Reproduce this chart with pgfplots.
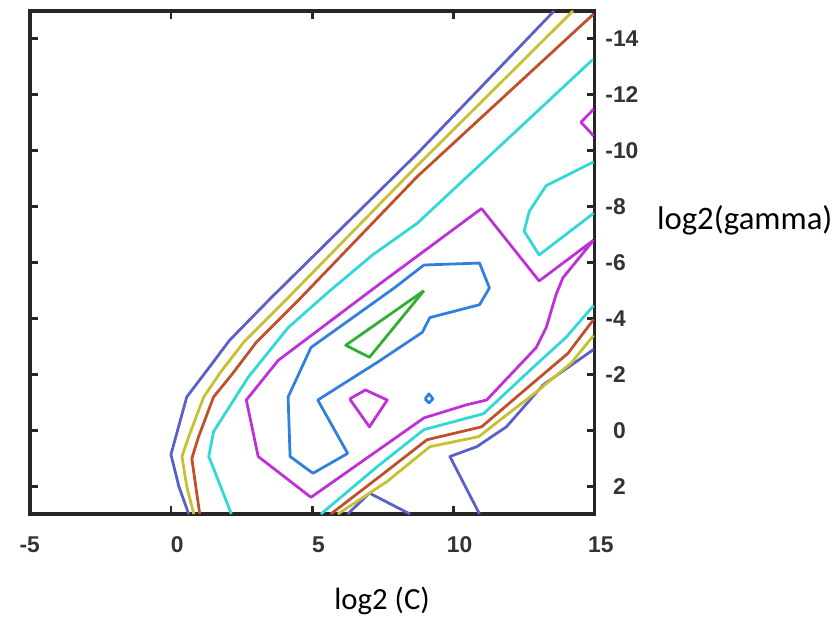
\documentclass[border=0pt]{standalone}
\usepackage{fontspec}
\setmainfont{Carlito}
\newfontfamily\tickfont{Liberation Sans}
\usepackage{pgfplots}
\pgfplotsset{compat=1.18}
\definecolor{lvA}{HTML}{5A60C8}
\definecolor{lvB}{HTML}{C8C030}
\definecolor{lvC}{HTML}{C0502A}
\definecolor{lvD}{HTML}{30D8D8}
\definecolor{lvE}{HTML}{C030D8}
\definecolor{lvF}{HTML}{3080E0}
\definecolor{lvG}{HTML}{30B030}
\begin{document}
\begin{tikzpicture}
\begin{axis}[
  scale only axis, width=284.5pt, height=253.5pt,
  xmin=-5, xmax=15, ymin=-15, ymax=3, y dir=reverse,
  axis line style={line width=1.8pt, black!85},
  tick align=inside, major tick length=4pt,
  tick style={line width=1.4pt, black!85},
  xtick={-5,0,5,10,15},
  xticklabels={-5,\hphantom{0}0,\hphantom{0}5,\hphantom{0}10,\hphantom{0}15},
  ytick={-14,-12,-10,-8,-6,-4,-2,0,2},
  yticklabels={-14,-12,-10,-8,-6,-4,-2,\hphantom{-}0,\hphantom{-}2},
  xticklabel pos=lower, yticklabel pos=right,
  xtick pos=both, ytick pos=both,
  ticklabel style={font=\tickfont\bfseries\fontsize{11.5}{13}\selectfont, text=black!80},
  xticklabel style={yshift=-8pt},
  yticklabel style={anchor=west, xshift=2pt},
  xlabel={log2 (C)},
  xlabel style={at={(rel axis cs:0.6239,-0.1716)}, anchor=center, font=\fontsize{15.5}{18}\selectfont},
  ylabel={log2(gamma)},
  ylabel style={rotate=-90, at={(rel axis cs:1.0984,0.5838)}, anchor=west, font=\fontsize{16.5}{20}\selectfont},
  every axis plot/.append style={line width=1.4pt, line join=round, no markers},
]
% level 1 (slate blue)
\addplot[lvA] coordinates {(13.57,-15) (8.72,-9.89) (3.55,-4.74) (2.07,-3.21) (1.44,-2.36) (0.56,-1.19) (0,0.87) (0.28,2.01) (0.63,3)};
\addplot[lvA] coordinates {(14.97,-2.89) (13.18,-1.62) (11.88,-0.12) (10.83,0.59) (9.88,0.94) (10.93,3)};
\addplot[lvA] coordinates {(6.26,3) (7.03,2.25) (8.47,3)};
% level 2 (yellow)
\addplot[lvB] coordinates {(14.24,-15) (8.72,-9.46) (4.15,-4.74) (2.57,-3.14) (1.76,-2.08) (1.16,-1.19) (0.63,0.23) (0.39,0.94) (0.56,2.01) (0.81,3)};
\addplot[lvB] coordinates {(5.91,3) (7.66,1.83) (9.17,0.59) (10.90,0.23) (12.94,-1.37) (14.17,-2.40) (14.97,-3.39)};
% level 3 (brown)
\addplot[lvC] coordinates {(14.97,-14.89) (8.72,-9.07) (4.60,-4.74) (3.02,-3.14) (2.14,-1.97) (1.51,-1.19) (0.98,0.23) (0.74,1.01) (0.88,2.01) (1.02,3)};
\addplot[lvC] coordinates {(5.66,3) (7.49,1.58) (9.07,0.34) (11.00,-0.12) (12.94,-1.79) (14.06,-2.75) (14.97,-3.96)};
% level 4 (cyan)
\addplot[lvD] coordinates {(14.94,-13.26) (8.72,-7.40) (7.14,-6.27) (5.55,-4.92) (4.15,-3.67) (2.74,-1.90) (1.51,0.05) (1.34,0.94) (1.76,2.01) (2.14,3)};
\addplot[lvD] coordinates {(14.97,-9.60) (13.29,-8.75) (12.69,-7.83) (12.51,-7.12) (13.04,-6.27) (14.97,-7.76)};
\addplot[lvD] coordinates {(5.31,3) (7.31,1.30) (8.96,-0.02) (11.07,-0.59) (12.83,-2.25) (13.99,-3.32) (14.97,-4.46)};
% level 5 (magenta)
\addplot[lvE] coordinates {(14.97,-6.80) (13.04,-5.34) (11.00,-7.93) (7.31,-5.17) (3.80,-2.50) (2.67,-1.08) (3.09,0.94) (4.96,2.40) (8.96,-0.44) (10.47,-0.91) (11.18,-1.08) (12.94,-2.96) (13.29,-3.67) (13.64,-4.85) (13.88,-5.45) (14.97,-6.80)};
\addplot[lvE] coordinates {(14.97,-11.48) (14.52,-11.02) (14.97,-10.53)};
\addplot[lvE] coordinates {(6.33,-1.12) (6.89,-1.44) (7.66,-1.08) (7.03,-0.12) (6.33,-1.12)};
% level 6 (light blue)
\addplot[lvF] coordinates {(8.96,-5.91) (10.93,-5.98) (11.28,-5.09) (10.93,-4.49) (9.17,-4.03) (8.90,-3.50) (7.31,-2.43) (5.20,-1.08) (6.26,0.83) (5.03,1.54) (4.22,0.94) (4.15,-1.19) (4.96,-2.96) (7.91,-5.09) (8.96,-5.91)};
\addplot[lvF] coordinates {(9.00,-1.12) (9.14,-1.30) (9.28,-1.12) (9.14,-0.98) (9.00,-1.12)};
% level 7 (green)
\addplot[lvG] coordinates {(8.96,-4.99) (6.19,-3.04) (7.03,-2.61) (8.96,-4.99)};
\coordinate (bbSW) at (rel axis cs:-0.0527,-0.211);
\coordinate (bbNE) at (rel axis cs:1.4218,1.0217);
\end{axis}
\path (bbSW) rectangle (bbNE);
\end{tikzpicture}
\end{document}
